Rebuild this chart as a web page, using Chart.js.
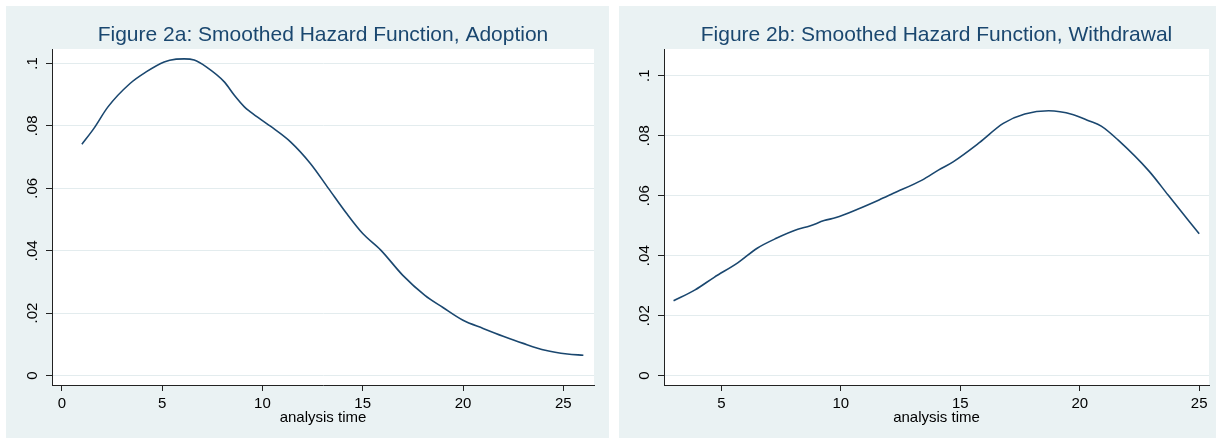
<!DOCTYPE html>
<html>
<head>
<meta charset="utf-8">
<script src="https://cdn.jsdelivr.net/npm/chart.js@4"></script>
<style>
  html, body { margin: 0; padding: 0; background: #fff; }
  body { width: 1216px; height: 440px; position: relative; overflow: hidden; }
  .panel { position: absolute; top: 6px; height: 432px; background: #eaf2f3; }
  #panelA { left: 6px; width: 603px; }
  #panelB { left: 619px; width: 597px; }
  canvas { display: block; }
</style>
</head>
<body>
<div class="panel" id="panelA"><canvas id="hazardA"></canvas></div>
<div class="panel" id="panelB"><canvas id="hazardB"></canvas></div>
<script>
// values
const adoptionTime = [1.0, 1.6, 2.3, 3.4, 4.2, 5.1, 5.7, 6.1, 6.6, 7.2, 8.1, 8.6, 9.1, 9.4, 10.4, 11.4, 12.4, 13.3, 14.2, 15.0, 15.9, 17.0, 18.1, 19.0, 20.0, 21.0, 22.0, 23.0, 24.1, 25.2, 26.0];
const adoptionHazard = [0.0741, 0.0792, 0.0861, 0.0936, 0.0973, 0.1005, 0.1014, 0.1015, 0.1011, 0.0989, 0.0941, 0.0898, 0.0861, 0.0845, 0.0799, 0.0749, 0.0679, 0.0599, 0.0519, 0.0455, 0.0402, 0.0321, 0.0257, 0.0218, 0.0177, 0.0151, 0.0126, 0.0103, 0.0081, 0.0069, 0.0065];

const withdrawalTime = [3.0, 3.9, 4.7, 5.7, 6.5, 7.3, 8.2, 8.7, 9.3, 9.8, 10.7, 11.6, 12.2, 13.4, 14.1, 14.7, 15.8, 16.8, 17.7, 18.7, 19.7, 20.4, 20.9, 21.6, 22.9, 23.7, 25.0];
const withdrawalHazard = [0.025, 0.0286, 0.0328, 0.0377, 0.0425, 0.0458, 0.0488, 0.0499, 0.0517, 0.0527, 0.0555, 0.0586, 0.0608, 0.0652, 0.0686, 0.0713, 0.0777, 0.0841, 0.0872, 0.0883, 0.0871, 0.0849, 0.0832, 0.0786, 0.0682, 0.0602, 0.0473];

const adoptionXTicks = [0, 5, 10, 15, 20, 25];
const withdrawalXTicks = [5, 10, 15, 20, 25];
const hazardTicks = [0, 0.02, 0.04, 0.06, 0.08, 0.1];

const navy = '#1a476f';
const fontFamily = "'Liberation Sans', Arial, sans-serif";

// white plot region on top of the bluish graph region
const plotBg = {
    id: 'plotBg',
    beforeDraw(chart) {
        const { ctx, chartArea: a } = chart;
        ctx.save();
        ctx.fillStyle = '#ffffff';
        ctx.fillRect(a.left, a.top, a.right - a.left, a.bottom - a.top);
        ctx.restore();
    }
};

// Stata style labels: 0, .02, .04 ... .1
const fmtHazard = v => v === 0 ? '0' : v.toFixed(2).replace(/0+$/, '').replace(/^0/, '');

function hazardChart(id, title, xs, ys, xTicks, xRange, yRange, yWidth, rightPad) {
    return new Chart(document.getElementById(id), {
        type: 'line',
        data: {
            datasets: [{
                data: xs.map((x, i) => ({ x: x, y: ys[i] })),
                borderColor: navy,
                borderWidth: 1.6,
                pointRadius: 0,
                cubicInterpolationMode: 'monotone',
                fill: false
            }]
        },
        options: {
            responsive: true,
            maintainAspectRatio: false,
            animation: false,
            layout: { padding: { left: 0, right: rightPad, top: 0, bottom: 0 } },
            plugins: {
                legend: { display: false },
                tooltip: { enabled: false },
                title: {
                    display: true,
                    text: title,
                    color: navy,
                    fullSize: false,
                    font: { family: fontFamily, size: 21, weight: 'normal' },
                    padding: { top: 16.6, bottom: 1.2 }
                }
            },
            scales: {
                x: {
                    type: 'linear',
                    min: xRange[0],
                    max: xRange[1],
                    afterBuildTicks: ax => { ax.ticks = xTicks.map(v => ({ value: v })); },
                    afterFit: ax => { ax.height = 53; },
                    grid: { drawOnChartArea: false, drawTicks: true, tickLength: 6, tickColor: '#222', tickWidth: 1 },
                    border: { color: '#222', width: 1 },
                    ticks: { color: '#000', font: { family: fontFamily, size: 15 }, padding: 3.7, maxRotation: 0, autoSkip: false },
                    title: {
                        display: true,
                        text: 'analysis time',
                        color: '#000',
                        font: { family: fontFamily, size: 15 },
                        padding: { top: 0, bottom: 11.2 }
                    }
                },
                y: {
                    type: 'linear',
                    min: yRange[0],
                    max: yRange[1],
                    afterBuildTicks: ax => { ax.ticks = hazardTicks.map(v => ({ value: v })); },
                    afterFit: ax => { ax.width = yWidth; },
                    grid: { color: '#e3ecee', lineWidth: 1, tickLength: 6, tickColor: '#222', tickWidth: 1 },
                    border: { color: '#222', width: 1 },
                    ticks: {
                        color: '#000',
                        font: { family: fontFamily, size: 15 },
                        padding: 2.3,
                        minRotation: 90,
                        maxRotation: 90,
                        crossAlign: 'center',
                        autoSkip: false,
                        callback: fmtHazard
                    }
                }
            }
        },
        plugins: [plotBg]
    });
}

hazardChart('hazardA', 'Figure 2a: Smoothed Hazard Function, Adoption',
    adoptionTime, adoptionHazard, adoptionXTicks, [-0.49, 26.53], [-0.00304, 0.10465], 46, 15);
hazardChart('hazardB', 'Figure 2b: Smoothed Hazard Function, Withdrawal',
    withdrawalTime, withdrawalHazard, withdrawalXTicks, [2.6, 25.41], [-0.0031, 0.1089], 45, 7);
</script>
</body>
</html>
